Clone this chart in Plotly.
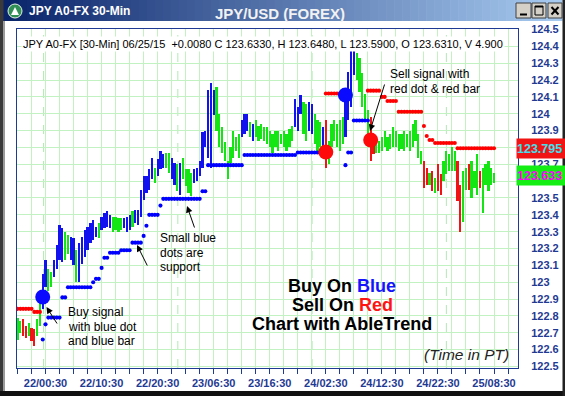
import plotly.graph_objects as go

# ---------------- data ----------------
bar_colors = list(
    "GGRRGRRGGB" "BGGBBBBGGB" "BGBBBBBBBG" "BBBBGGGGBB" "BGBBBBBBBG"
    "BBBGGBBGBG" "GGGBBBBBBB" "BGGGGGGGGG" "BBBGBGGGGG" "GGGGGGGGGB"
    "BBGGBBGGGB" "RGGGGGGBBB" "BGGGGGRRGG" "GGGGGGGGGG" "GGGGGRRGRG"
    "RRGGGGGRRG" "GRGGGRGGGG" "G"
)
bar_high = [
    122.79, 122.77, 122.78, 122.74, 122.76, 122.73, 122.72, 122.78, 122.90, 123.05,
    123.13, 123.08, 123.06, 123.13, 123.22, 123.34, 123.32, 123.30, 123.28, 123.27,
    123.26, 123.19, 123.23, 123.27, 123.31, 123.33, 123.35, 123.37, 123.33, 123.35,
    123.39, 123.41, 123.42, 123.40, 123.39, 123.39, 123.38, 123.38, 123.38, 123.39,
    123.40, 123.42, 123.43, 123.43, 123.55, 123.63, 123.63, 123.67, 123.74, 123.68,
    123.73, 123.78, 123.76, 123.77, 123.77, 123.74, 123.71, 123.70, 123.71, 123.74,
    123.67, 123.67, 123.65, 123.67, 123.68, 123.72, 123.89, 123.90, 124.14, 124.18,
    124.14, 124.16, 124.00, 123.92, 123.83, 123.72, 123.80, 123.90, 123.86, 123.88,
    123.96, 124.00, 124.00, 123.95, 123.94, 123.96, 123.93, 123.94, 123.92, 123.92,
    123.90, 123.88, 123.90, 123.90, 123.88, 123.90, 123.88, 123.91, 123.93, 124.09,
    124.04, 124.11, 124.07, 124.06, 124.07, 124.06, 124.00, 123.96, 123.95, 123.92,
    123.96, 123.84, 123.94, 123.96, 123.94, 123.96, 123.98, 124.08, 124.25, 124.39,
    124.37, 124.36, 124.33, 124.24, 124.12, 124.02, 123.98, 123.84, 123.86, 123.84,
    123.86, 123.90, 123.86, 123.88, 123.92, 123.90, 123.88, 123.88, 123.90, 123.88,
    123.90, 123.94, 123.96, 123.88, 123.78, 123.72, 123.68, 123.65, 123.66, 123.62,
    123.70, 123.64, 123.72, 123.78, 123.76, 123.80, 123.78, 123.72, 123.58, 123.66,
    123.68, 123.70, 123.72, 123.66, 123.76, 123.66, 123.68, 123.70, 123.72, 123.68,
    123.648,
]
bar_low = [
    122.66, 122.70, 122.68, 122.67, 122.68, 122.65, 122.62, 122.68, 122.74, 122.84,
    122.97, 122.95, 122.97, 123.03, 123.08, 123.13, 123.12, 123.13, 123.17, 123.13,
    123.10, 123.00, 123.00, 123.11, 123.15, 123.19, 123.23, 123.25, 123.27, 123.26,
    123.31, 123.32, 123.33, 123.32, 123.30, 123.31, 123.30, 123.31, 123.32, 123.30,
    123.31, 123.33, 123.35, 123.34, 123.39, 123.49, 123.53, 123.55, 123.61, 123.59,
    123.63, 123.67, 123.68, 123.68, 123.65, 123.61, 123.58, 123.54, 123.52, 123.61,
    123.57, 123.53, 123.51, 123.59, 123.60, 123.63, 123.68, 123.80, 123.74, 123.68,
    123.99, 123.90, 123.80, 123.77, 123.72, 123.61, 123.71, 123.74, 123.78, 123.74,
    123.86, 123.88, 123.90, 123.86, 123.84, 123.86, 123.84, 123.85, 123.84, 123.82,
    123.80, 123.77, 123.80, 123.78, 123.82, 123.80, 123.78, 123.80, 123.84, 123.92,
    123.90, 124.00, 123.88, 123.84, 123.90, 123.88, 123.82, 123.78, 123.80, 123.80,
    123.68, 123.70, 123.80, 123.84, 123.80, 123.78, 123.82, 123.86, 123.96, 124.04,
    124.23, 124.20, 124.13, 124.04, 123.96, 123.86, 123.72, 123.76, 123.77, 123.77,
    123.78, 123.80, 123.78, 123.79, 123.80, 123.80, 123.78, 123.79, 123.78, 123.80,
    123.78, 123.80, 123.84, 123.74, 123.70, 123.56, 123.58, 123.58, 123.54, 123.53,
    123.54, 123.52, 123.60, 123.64, 123.66, 123.66, 123.66, 123.48, 123.30, 123.36,
    123.55, 123.55, 123.50, 123.56, 123.52, 123.56, 123.41, 123.58, 123.54, 123.58,
    123.59,
]

# support (small blue dots): segments of bars at one level
support_start = [9, 10, 11, 16, 18, 27, 28, 30, 31, 33, 37, 41, 45, 46, 47, 51, 52, 66, 68, 81, 100, 117, 118, 120]
support_end   = [9, 10, 15, 17, 26, 27, 29, 30, 32, 36, 40, 44, 45, 46, 50, 51, 65, 67, 80, 99, 107, 117, 119, 125]
support_level = [122.66, 122.75, 122.79, 122.91, 122.97, 123.00, 123.02, 123.085, 123.145, 123.175,
                 123.19, 123.235, 123.275, 123.335, 123.40, 123.455, 123.495, 123.54, 123.695,
                 123.755, 123.77, 123.695, 123.77, 123.96]

# resistance (small red dots)
resist_start = [0, 6, 110, 125, 130, 132, 136, 145, 146, 147, 149, 157]
resist_end   = [5, 8, 115, 129, 131, 135, 144, 145, 146, 148, 156, 170]
resist_level = [122.842, 122.824, 124.12, 124.137, 124.10, 124.076, 124.012, 123.927,
                123.868, 123.844, 123.826, 123.795]

# signals (large dots)
buy_idx = [9, 117]
buy_price = [122.912, 124.111]
sell_idx = [110, 126]
sell_price = [123.773, 123.844]

last_resistance = 123.795
last_close = 123.633

x_label_idx = [10, 30, 50, 70, 90, 110, 130, 150, 170]
x_label_text = ["22/00:30", "22/10:30", "22/20:30", "23/06:30", "23/16:30",
                "24/02:30", "24/12:30", "24/22:30", "25/08:30"]
day_breaks = [9.3, 57.2, 105.1, 153.0]

y_tick_vals = [122.5, 122.6, 122.7, 122.8, 122.9, 123.0, 123.1, 123.2, 123.3, 123.4, 123.5,
               123.6, 123.7, 123.8, 123.9, 124.0, 124.1, 124.2, 124.3, 124.4, 124.5]
y_tick_text = ["122.5", "122.6", "122.7", "122.8", "122.9", "123", "123.1", "123.2", "123.3",
               "123.4", "123.5", "123.6", "123.7", "123.8", "123.9", "124", "124.1", "124.2",
               "124.3", "124.4", "124.5"]

header_text = ("JPY A0-FX [30-Min] 06/25/15&nbsp; +0.0080 C 123.6330, H 123.6480, "
               "L 123.5900, O 123.6310, V 4.900")

# ---------------- styling ----------------
COL = {"B": "#1212ee", "G": "#14e614", "R": "#f01414"}
AXIS_BLUE = "#1f3a93"
GRID = "#c2f2c2"
FONT = "Liberation Sans, Arial, sans-serif"

W, H = 565, 396
ML, MR, MT, MB = 17, 47, 29, 28
PW, PH = W - ML - MR, H - MT - MB


def px(x):
    return (x - ML) / PW


def py(y):
    return (H - MB - y) / PH


def expand(starts, ends, levels):
    xs, ys = [], []
    for s, e, v in zip(starts, ends, levels):
        for i in range(s, e + 1):
            xs.append(i)
            ys.append(v)
    return xs, ys


n = len(bar_high)
idx = list(range(n))

fig = go.Figure()
fig.add_trace(go.Bar(
    x=idx, base=bar_low, y=[h - l for h, l in zip(bar_high, bar_low)],
    marker=dict(color=[COL[c] for c in bar_colors], line_width=0),
    width=0.8, hoverinfo="skip"))

sx, sy = expand(support_start, support_end, support_level)
fig.add_trace(go.Scatter(x=sx, y=sy, mode="markers",
                         marker=dict(size=4.1, color="#0000ff"), hoverinfo="skip"))
rx, ry = expand(resist_start, resist_end, resist_level)
fig.add_trace(go.Scatter(x=rx, y=ry, mode="markers",
                         marker=dict(size=4.1, color="#ff0000"), hoverinfo="skip"))
fig.add_trace(go.Scatter(x=buy_idx, y=buy_price, mode="markers",
                         marker=dict(size=15, color="#0a0aff"), hoverinfo="skip"))
fig.add_trace(go.Scatter(x=sell_idx, y=sell_price, mode="markers",
                         marker=dict(size=15, color="#ff0a0a"), hoverinfo="skip"))

x_tick_vals = list(range(0, 180, 5))
x_tick_text = [x_label_text[x_label_idx.index(v)] if v in x_label_idx else "" for v in x_tick_vals]

fig.update_xaxes(
    range=[-0.18, 178.56], tickmode="array", tickvals=x_tick_vals, ticktext=x_tick_text,
    showgrid=True, gridcolor=GRID, gridwidth=1, zeroline=False,
    showline=True, mirror=True, linecolor=AXIS_BLUE, linewidth=1,
    ticks="outside", ticklen=5, tickcolor=AXIS_BLUE, tickwidth=1,
    tickfont=dict(family=FONT, size=11, color=AXIS_BLUE, weight="bold"),
    automargin=False, fixedrange=True)
fig.update_yaxes(
    range=[122.491, 124.503], side="right", tickmode="array",
    tickvals=y_tick_vals, ticktext=y_tick_text,
    showgrid=True, gridcolor=GRID, gridwidth=1, zeroline=False,
    showline=True, mirror=True, linecolor=AXIS_BLUE, linewidth=1,
    ticks="", ticklabelstandoff=10,
    tickfont=dict(family=FONT, size=11, color=AXIS_BLUE, weight="bold"),
    automargin=False, fixedrange=True)

shapes = []
for d in day_breaks:
    shapes.append(dict(type="line", xref="x", yref="paper", x0=d, x1=d, y0=0, y1=1,
                       line=dict(color="#b4e8b4", width=1, dash="dash"), layer="below"))

# window chrome: title bar gradient
N = 70
c0, c1 = (10, 36, 106), (166, 202, 240)
for k in range(N):
    t = k / (N - 1)
    col = "rgb(%d,%d,%d)" % tuple(round(a + (b - a) * t) for a, b in zip(c0, c1))
    x0 = 3 + k * (562 - 3) / N
    x1 = 3 + (k + 1) * (562 - 3) / N + 0.6
    shapes.append(dict(type="rect", xref="paper", yref="paper", x0=px(x0), x1=px(x1),
                       y0=py(21), y1=py(0), fillcolor=col, line_width=0, layer="above"))
# frame
shapes.append(dict(type="rect", xref="paper", yref="paper", x0=px(0), x1=px(3.5), y0=py(396), y1=py(0),
                   fillcolor="#3a3a3a", line_width=0, layer="above"))
shapes.append(dict(type="rect", xref="paper", yref="paper", x0=px(3.5), x1=px(5), y0=py(391), y1=py(21),
                   fillcolor="#9a9a9a", line_width=0, layer="above"))
shapes.append(dict(type="rect", xref="paper", yref="paper", x0=px(0), x1=px(565), y0=py(396), y1=py(391),
                   fillcolor="#111111", line_width=0, layer="above"))
shapes.append(dict(type="rect", xref="paper", yref="paper", x0=px(562.5), x1=px(565), y0=py(396), y1=py(0),
                   fillcolor="#222222", line_width=0, layer="above"))
# title buttons
for x0, x1 in [(516, 531), (532, 546), (548, 562)]:
    shapes.append(dict(type="rect", xref="paper", yref="paper", x0=px(x0), x1=px(x1), y0=py(18), y1=py(3),
                       fillcolor="#d4d0c8", line=dict(color="#404040", width=1), layer="above"))
shapes.append(dict(type="rect", xref="paper", yref="paper", x0=px(520), x1=px(527), y0=py(15.5), y1=py(13.5),
                   fillcolor="#000000", line_width=0, layer="above"))
shapes.append(dict(type="rect", xref="paper", yref="paper", x0=px(535), x1=px(543), y0=py(15), y1=py(6),
                   fillcolor="rgba(0,0,0,0)", line=dict(color="#000000", width=1), layer="above"))
shapes.append(dict(type="rect", xref="paper", yref="paper", x0=px(535), x1=px(543), y0=py(7.5), y1=py(6),
                   fillcolor="#000000", line_width=0, layer="above"))
shapes.append(dict(type="line", xref="paper", yref="paper", x0=px(551.5), x1=px(558.5), y0=py(7), y1=py(14.5),
                   line=dict(color="#000000", width=2), layer="above"))
shapes.append(dict(type="line", xref="paper", yref="paper", x0=px(558.5), x1=px(551.5), y0=py(7), y1=py(14.5),
                   line=dict(color="#000000", width=2), layer="above"))
# app icon
shapes.append(dict(type="circle", xref="paper", yref="paper", x0=px(8), x1=px(22), y0=py(18), y1=py(4),
                   fillcolor="#2f8f55", line=dict(color="#e8f0e8", width=1), layer="above"))
shapes.append(dict(type="path", xref="paper", yref="paper",
                   path="M %f,%f L %f,%f L %f,%f Z" % (px(11), py(15), px(15), py(7), px(19), py(15)),
                   fillcolor="#ffffff", line_width=0, layer="above"))

ann = []


def text(t, x, y, size, color="#000000", xanchor="left", bold=False, italic=False, bg=None):
    a = dict(text=t, xref="paper", yref="paper", x=px(x), y=py(y), xanchor=xanchor, yanchor="middle",
             showarrow=False, font=dict(family=FONT, size=size, color=color,
                                        weight="bold" if bold else "normal",
                                        style="italic" if italic else "normal"))
    if bg:
        a["bgcolor"] = bg
        a["borderpad"] = 1
    ann.append(a)


def arrow(hx, hy, tx, ty):
    ann.append(dict(text="", xref="paper", yref="paper", x=px(hx), y=py(hy),
                    ax=tx - hx, ay=ty - hy, showarrow=True, arrowhead=2, arrowsize=1.3,
                    arrowwidth=1, arrowcolor="#000000", standoff=0))


text("JPY A0-FX 30-Min", 27, 11, 12, "#ffffff", bold=True)
text("JPY/USD (FOREX)", 280, 13.5, 15, "#f2f2f2", xanchor="center", bold=True)
text(header_text, 21, 44, 11, "#000000", bg="#ffffff")

for t, yy in zip(["Buy signal", "with blue dot", "and blue bar"], [312, 326.5, 341]):
    text(t, 66, yy, 12)
for t, yy in zip(["Small blue", "dots are", "support"], [238, 252.5, 267]):
    text(t, 158, yy, 12)
for t, yy in zip(["Sell signal with", "red dot & red bar"], [73.5, 88.5]):
    text(t, 388, yy, 12)

text("Buy On <span style='color:#1414ff'>Blue</span>", 342, 286, 18, xanchor="center", bold=True)
text("Sell On <span style='color:#ff1414'>Red</span>", 342, 305, 18, xanchor="center", bold=True)
text("Chart with AbleTrend", 342, 324, 18, xanchor="center", bold=True)
text("(Time in PT)", 466, 354, 15.5, "#222222", xanchor="center", italic=True)

arrow(46.5, 307, 58, 325)
arrow(187, 206, 195, 229)
arrow(137, 245, 148, 267)
arrow(370, 131, 385, 83)

for val, bg, fg in [(last_resistance, "#f01414", "#40e0f0"), (last_close, "#14ee14", "#ff00ff")]:
    ann.append(dict(text="<b>%.3f</b>" % val, xref="paper", yref="y", x=px(516), y=val,
                    xanchor="left", yanchor="middle", showarrow=False, width=62, height=19,
                    align="left", bgcolor=bg, borderpad=0,
                    font=dict(family=FONT, size=12.5, color=fg)))

fig.update_layout(
    width=W, height=H, margin=dict(l=ML, r=MR, t=MT, b=MB, pad=0, autoexpand=False),
    paper_bgcolor="#ffffff", plot_bgcolor="#ffffff", showlegend=False,
    bargap=0, shapes=shapes, annotations=ann,
)

fig.write_html("out.html", config={"displayModeBar": False, "staticPlot": True},
               post_script="document.body.style.margin='0';document.body.style.overflow='hidden';")
